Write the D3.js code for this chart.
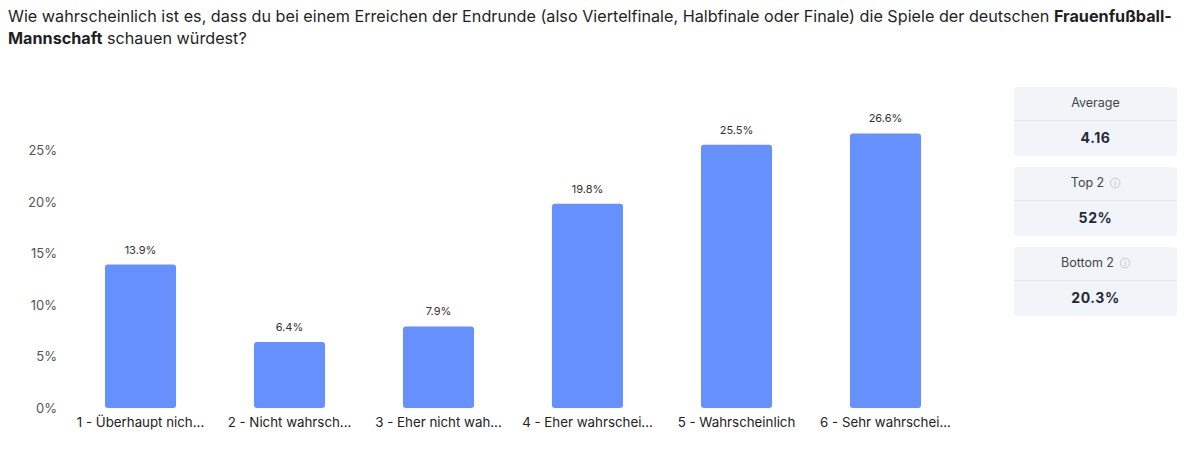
<!DOCTYPE html>
<html><head><meta charset="utf-8">
<script src="https://cdn.jsdelivr.net/npm/d3@7"></script>
<style>
body{margin:0;background:#fff;font-family:Inter,"Noto Sans",sans-serif;}
svg{display:block;}
</style></head>
<body>
<svg id="c" width="1200" height="468"></svg>
<script>
const categories = ["1 - Überhaupt nich...","2 - Nicht wahrsch...","3 - Eher nicht wah...","4 - Eher wahrschei...","5 - Wahrscheinlich","6 - Sehr wahrschei..."];
const values = [13.9, 6.4, 7.9, 19.8, 25.5, 26.6];
const yTicks = [0, 5, 10, 15, 20, 25];
const statLabels = ["Average", "Top 2", "Bottom 2"];
const statValues = ["4.16", "52%", "20.3%"];
const statInfo = [false, true, true];

const svg = d3.select("#c");
const font = "Inter, 'Noto Sans', sans-serif";

// Title
const t1 = svg.append("text").attr("x", 8).attr("y", 22).attr("font-size", 16.2).attr("fill", "#1f1f1f").attr("font-family", font);
t1.append("tspan").text("Wie wahrscheinlich ist es, dass du bei einem Erreichen der Endrunde (also Viertelfinale, Halbfinale oder Finale) die Spiele der deutschen ");
t1.append("tspan").attr("font-weight", 700).text("Frauenfußball-");
const t2 = svg.append("text").attr("x", 8).attr("y", 44).attr("font-size", 16.2).attr("fill", "#1f1f1f").attr("font-family", font);
t2.append("tspan").attr("font-weight", 700).text("Mannschaft");
t2.append("tspan").text(" schauen würdest?");

// Scales
const x = d3.scaleBand().domain(categories).range([66, 960]).paddingInner(0.523).paddingOuter(0.2615);
const y = d3.scaleLinear().domain([0, 25]).range([408, 150]);

// Y axis
const yAxis = d3.axisLeft(y).tickValues(yTicks).tickFormat(d => d + "%").tickSize(0).tickPadding(0);
const yg = svg.append("g").attr("transform", "translate(57,0)").call(yAxis);
yg.select(".domain").remove();
yg.selectAll("text").attr("font-size", 13).attr("fill", "#555").attr("font-family", font).attr("dy", "0.35em");

// Bars
const r = 3;
svg.append("g").selectAll("path").data(values).join("path")
  .attr("fill", "#6690fb")
  .attr("d", (d, i) => {
    const x0 = x(categories[i]), w = x.bandwidth(), y0 = y(d), y1 = y(0);
    return `M${x0},${y1-r} L${x0},${y0+r} Q${x0},${y0} ${x0+r},${y0} L${x0+w-r},${y0} Q${x0+w},${y0} ${x0+w},${y0+r} L${x0+w},${y1-r} Q${x0+w},${y1} ${x0+w-r},${y1} L${x0+r},${y1} Q${x0},${y1} ${x0},${y1-r} Z`;
  });

// Value labels
svg.append("g").selectAll("text").data(values).join("text")
  .attr("x", (d, i) => x(categories[i]) + x.bandwidth() / 2)
  .attr("y", d => y(d) - 11)
  .attr("text-anchor", "middle").attr("font-size", 11).attr("fill", "#333").attr("font-family", font)
  .text(d => d.toFixed(1) + "%");

// X axis
const xAxis = d3.axisBottom(x).tickSize(0).tickPadding(0);
const xg = svg.append("g").attr("transform", "translate(0,418)").call(xAxis);
xg.select(".domain").remove();
xg.selectAll("text").attr("font-size", 13.3).attr("fill", "#222").attr("font-family", font).attr("dy", "0.71em");

// Stat panels
const panelTop = [87, 167, 247];
const pg = svg.append("g");
statLabels.forEach((lab, i) => {
  const g = pg.append("g").attr("transform", `translate(1014,${panelTop[i]})`);
  g.append("rect").attr("width", 163).attr("height", 69).attr("rx", 4).attr("fill", "#f1f4f8");
  g.append("line").attr("x1", 0).attr("x2", 163).attr("y1", 33.5).attr("y2", 33.5).attr("stroke", "#e2e7ee").attr("stroke-width", 1);
  const lt = g.append("text").attr("y", 20).attr("font-size", 12.5).attr("fill", "#444").attr("font-family", font).text(lab);
  if (statInfo[i]) {
    const w = lt.node().getComputedTextLength();
    const total = w + 6 + 10;
    const sx = 81.5 - total / 2;
    lt.attr("x", sx);
    const cx = sx + w + 6 + 5;
    g.append("circle").attr("cx", cx).attr("cy", 16).attr("r", 4.8).attr("fill", "none").attr("stroke", "#c0c6ce").attr("stroke-width", 0.9);
    g.append("text").attr("x", cx).attr("y", 18.8).attr("text-anchor", "middle").attr("font-size", 7).attr("fill", "#b5bcc5").attr("font-family", font).text("i");
  } else {
    lt.attr("x", 81.5).attr("text-anchor", "middle");
  }
  g.append("text").attr("x", 81.5).attr("y", 56).attr("text-anchor", "middle").attr("font-size", 14).attr("font-weight", 700)
    .attr("letter-spacing", 0.6).attr("fill", "#1f2a37").attr("font-family", font).text(statValues[i]);
});
</script>
</body></html>
